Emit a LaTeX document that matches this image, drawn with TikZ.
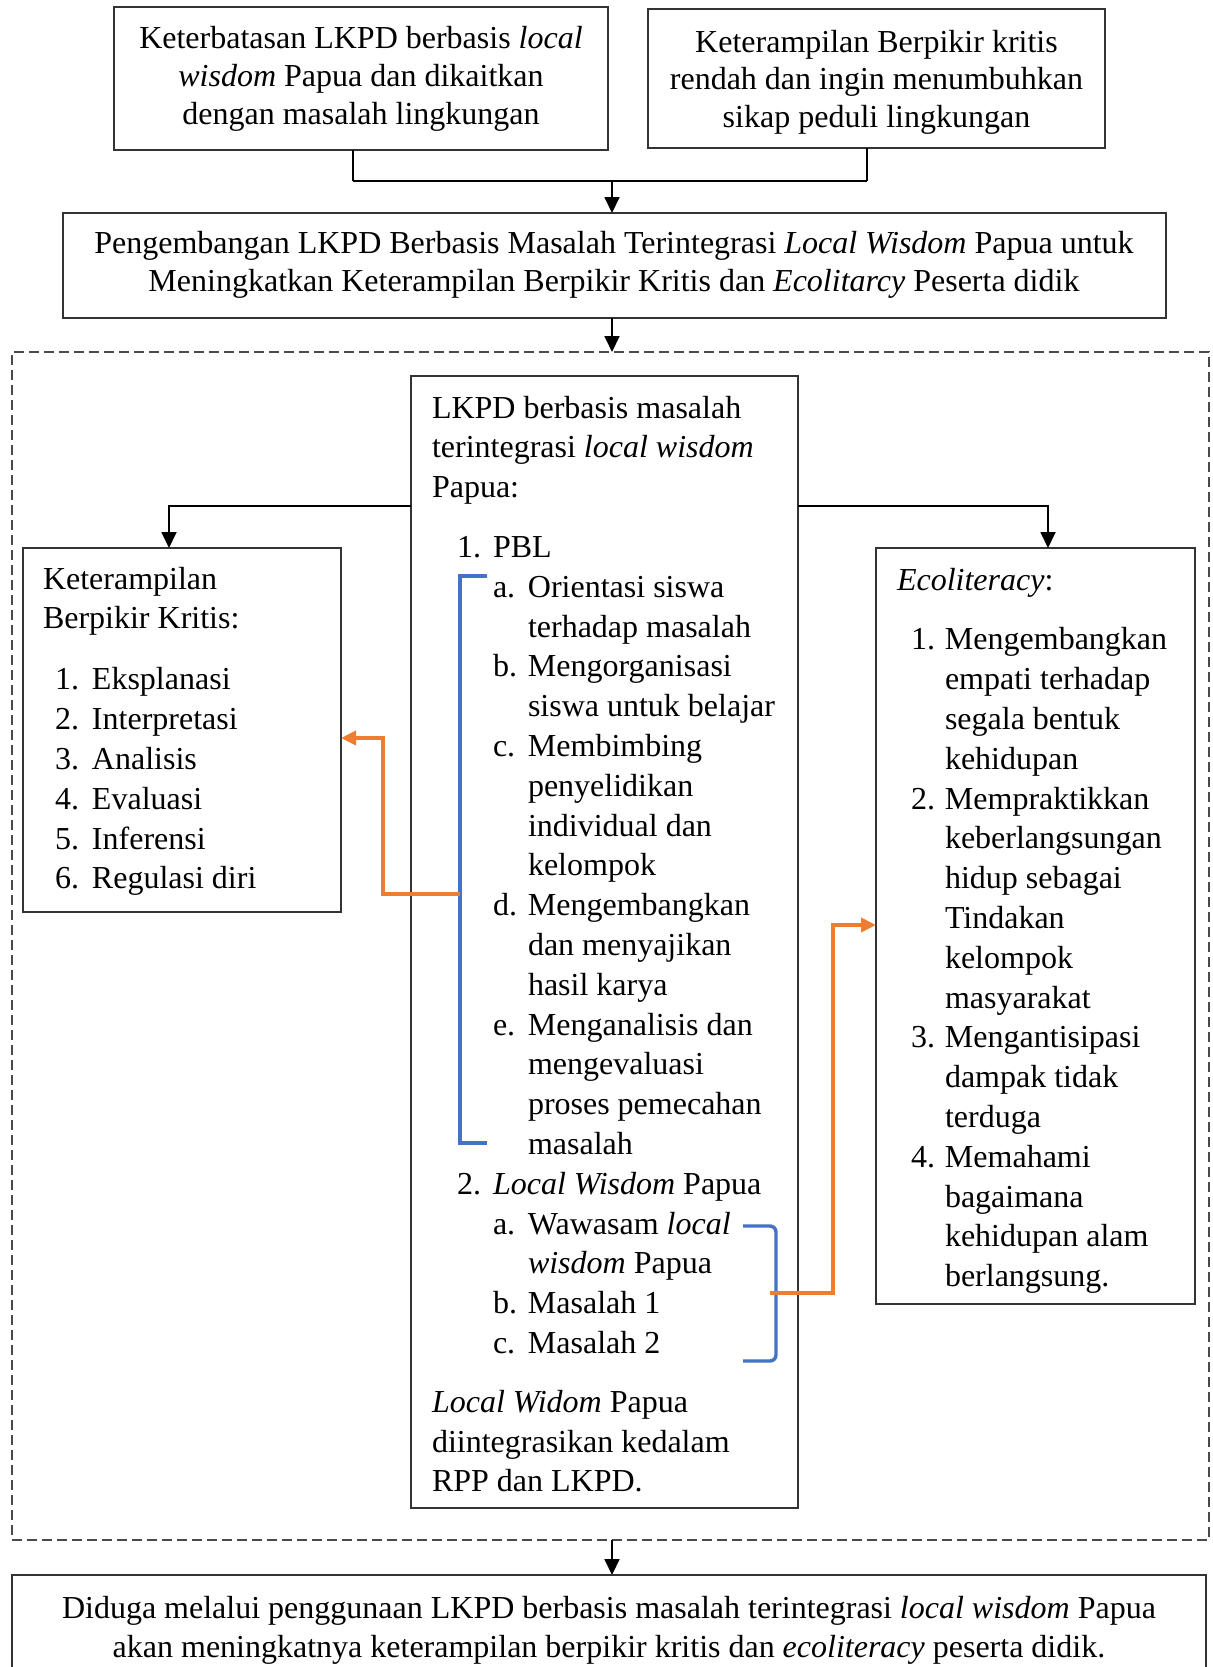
\documentclass[tikz,border=0pt]{standalone}
\usepackage{fontspec}
\setmainfont{Liberation Serif}
\usetikzlibrary{arrows.meta,calc}
\definecolor{orng}{HTML}{ED7D31}
\definecolor{blu}{HTML}{4472C4}
\definecolor{bord}{HTML}{333333}
\definecolor{dgray}{HTML}{4A4A4A}
\newcommand{\Lbl}[3]{\hspace*{#1}\makebox[#2][l]{#3}}
\begin{document}
\begin{tikzpicture}[x=0.5pt,y=-0.5pt,
  box/.style={draw=bord,line width=0.6pt,inner sep=0pt,outer sep=0pt,rectangle},
  topbox/.style={box,line width=0.8pt},
  txt/.style={inner sep=0pt,outer sep=0pt},
  ctext/.style={txt,anchor=base,font=\fontsize{16}{18.9}\selectfont},
  ltext/.style={txt,anchor=base west,font=\fontsize{16}{19.9}\selectfont},
  conn/.style={line width=0.9pt},
  arr/.style={conn,-{Triangle[width=7.5pt,length=8pt]}},
  oarr/.style={draw=orng,line width=2pt,-{Triangle[width=7pt,length=7.5pt]}},
  brk/.style={draw=blu,line width=1.7pt},
  dbox/.style={draw=dgray,line width=0.7pt,dash pattern=on 5pt off 2.5pt,inner sep=0pt,outer sep=0pt,rectangle},
]
\useasboundingbox (0,0) rectangle (1213,1667);
\fill[white] (0,0) rectangle (1213,1667);

% boxes
\node[dbox,minimum width=598.5pt,minimum height=594pt] (dash) at (610.5,946) {};
\node[topbox,minimum width=247pt,minimum height=71.5pt] (tl) at (361,78.5) {};
\node[topbox,minimum width=228.5pt,minimum height=69.5pt] (tr) at (876.5,78.5) {};
\node[box,minimum width=551.5pt,minimum height=52.5pt] (mid) at (614.5,265.5) {};
\node[box,minimum width=193.5pt,minimum height=566pt] (ctr) at (604.5,942) {};
\node[box,minimum width=159pt,minimum height=182pt] (lk) at (182,730) {};
\node[box,minimum width=159.5pt,minimum height=378pt] (eco) at (1035.5,926) {};
\node[box,minimum width=597pt,minimum height=47pt] (bot) at (609,1622) {};

% texts of centered boxes
\node[ctext] (tlt) at (361,48.5) {\parbox[t]{245pt}{\centering Keterbatasan LKPD berbasis \textit{local}\\ \textit{wisdom} Papua dan dikaitkan\\ dengan masalah lingkungan}};
\node[ctext] (trt) at (876.5,52) {\parbox[t]{226pt}{\centering Keterampilan Berpikir kritis\\ rendah dan ingin menumbuhkan\\ sikap peduli lingkungan}};
\node[ctext] (midt) at (614,253.5) {\parbox[t]{548pt}{\centering Pengembangan LKPD Berbasis Masalah Terintegrasi \textit{Local Wisdom} Papua untuk\\ Meningkatkan Keterampilan Berpikir Kritis dan \textit{Ecolitarcy} Peserta didik}};
\node[ctext,font=\fontsize{16}{19.6}\selectfont] (bott) at (609,1618) {\parbox[t]{595pt}{\centering Diduga melalui penggunaan LKPD berbasis masalah terintegrasi \textit{local wisdom} Papua\\ akan meningkatnya keterampilan berpikir kritis dan \textit{ecoliteracy} peserta didik.}};

% left box text
\node[ltext] (lkt) at (43,589) {\parbox[t]{200pt}{\raggedright
Keterampilan\\
Berpikir Kritis:\\[10.6pt]
\Lbl{6pt}{18.5pt}{1.}Eksplanasi\\
\Lbl{6pt}{18.5pt}{2.}Interpretasi\\
\Lbl{6pt}{18.5pt}{3.}Analisis\\
\Lbl{6pt}{18.5pt}{4.}Evaluasi\\
\Lbl{6pt}{18.5pt}{5.}Inferensi\\
\Lbl{6pt}{18.5pt}{6.}Regulasi diri}};

% right box text
\node[ltext] (ecot) at (897,590) {\parbox[t]{200pt}{\raggedright
\textit{Ecoliteracy}:\\[10pt]
\Lbl{7pt}{17pt}{1.}Mengembangkan\\
\hspace*{24pt}empati terhadap\\
\hspace*{24pt}segala bentuk\\
\hspace*{24pt}kehidupan\\
\Lbl{7pt}{17pt}{2.}Mempraktikkan\\
\hspace*{24pt}keberlangsungan\\
\hspace*{24pt}hidup sebagai\\
\hspace*{24pt}Tindakan\\
\hspace*{24pt}kelompok\\
\hspace*{24pt}masyarakat\\
\Lbl{7pt}{17pt}{3.}Mengantisipasi\\
\hspace*{24pt}dampak tidak\\
\hspace*{24pt}terduga\\
\Lbl{7pt}{17pt}{4.}Memahami\\
\hspace*{24pt}bagaimana\\
\hspace*{24pt}kehidupan alam\\
\hspace*{24pt}berlangsung.}};

% center box text
\node[ltext] (ctrt) at (432,418) {\parbox[t]{200pt}{\raggedright
LKPD berbasis masalah\\
terintegrasi \textit{local wisdom}\\
Papua:\\[10pt]
\Lbl{12.5pt}{18pt}{1.}PBL\\
\Lbl{30.5pt}{17.5pt}{a.}Orientasi siswa\\
\hspace*{48pt}terhadap masalah\\
\Lbl{30.5pt}{17.5pt}{b.}Mengorganisasi\\
\hspace*{48pt}siswa untuk belajar\\
\Lbl{30.5pt}{17.5pt}{c.}Membimbing\\
\hspace*{48pt}penyelidikan\\
\hspace*{48pt}individual dan\\
\hspace*{48pt}kelompok\\
\Lbl{30.5pt}{17.5pt}{d.}Mengembangkan\\
\hspace*{48pt}dan menyajikan\\
\hspace*{48pt}hasil karya\\
\Lbl{30.5pt}{17.5pt}{e.}Menganalisis dan\\
\hspace*{48pt}mengevaluasi\\
\hspace*{48pt}proses pemecahan\\
\hspace*{48pt}masalah\\
\Lbl{12.5pt}{18pt}{2.}\textit{Local Wisdom} Papua\\
\Lbl{30.5pt}{17.5pt}{a.}Wawasam \textit{local}\\
\hspace*{48pt}\textit{wisdom} Papua\\
\Lbl{30.5pt}{17.5pt}{b.}Masalah 1\\
\Lbl{30.5pt}{17.5pt}{c.}Masalah 2\\[9.5pt]
\textit{Local Widom} Papua\\
diintegrasikan kedalam\\
RPP dan LKPD.}};

% top junction
\coordinate (jl) at (353,181);
\coordinate (jr) at (867,181);
\coordinate (jm) at (612,181);
\draw[conn] (tl.south -| jl) -- (jl);
\draw[conn] (tr.south -| jr) -- (jr);
\draw[line width=1.4pt] (jl) -- (jr);
\draw[arr] (jm) -- (mid.north -| jm);
\draw[arr] (mid.south -| jm) -- (dash.north -| jm);
\draw[arr] (dash.south -| jm) -- (bot.north -| jm);

% branches from center box
\coordinate (lt) at (169,506);
\coordinate (rt) at (1048,506);
\draw[arr] (ctr.west |- lt) -| (lk.north -| lt);
\draw[arr] (ctr.east |- rt) -| (eco.north -| rt);

% blue brackets
\coordinate (b1t) at (487,576);
\coordinate (b1b) at (487,1143);
\coordinate (b1x) at (460,0);
\draw[brk] (b1t) -- (b1t -| b1x) -- (b1b -| b1x) -- (b1b);
\coordinate (b2t) at (743,1226);
\coordinate (b2b) at (743,1361);
\coordinate (b2x) at (776,0);
\draw[brk,rounded corners=3pt] (b2t) -- (b2t -| b2x) -- (b2b -| b2x) -- (b2b);

% orange connectors
\coordinate (o1) at (460,894);
\coordinate (o1k) at (383,738);
\draw[oarr] (o1) -| (o1k) -- (lk.east |- o1k);
\coordinate (o2) at (770,1293);
\coordinate (o2k) at (833,925);
\draw[oarr] (o2) -| (o2k) -- (eco.west |- o2k);
\end{tikzpicture}
\end{document}
